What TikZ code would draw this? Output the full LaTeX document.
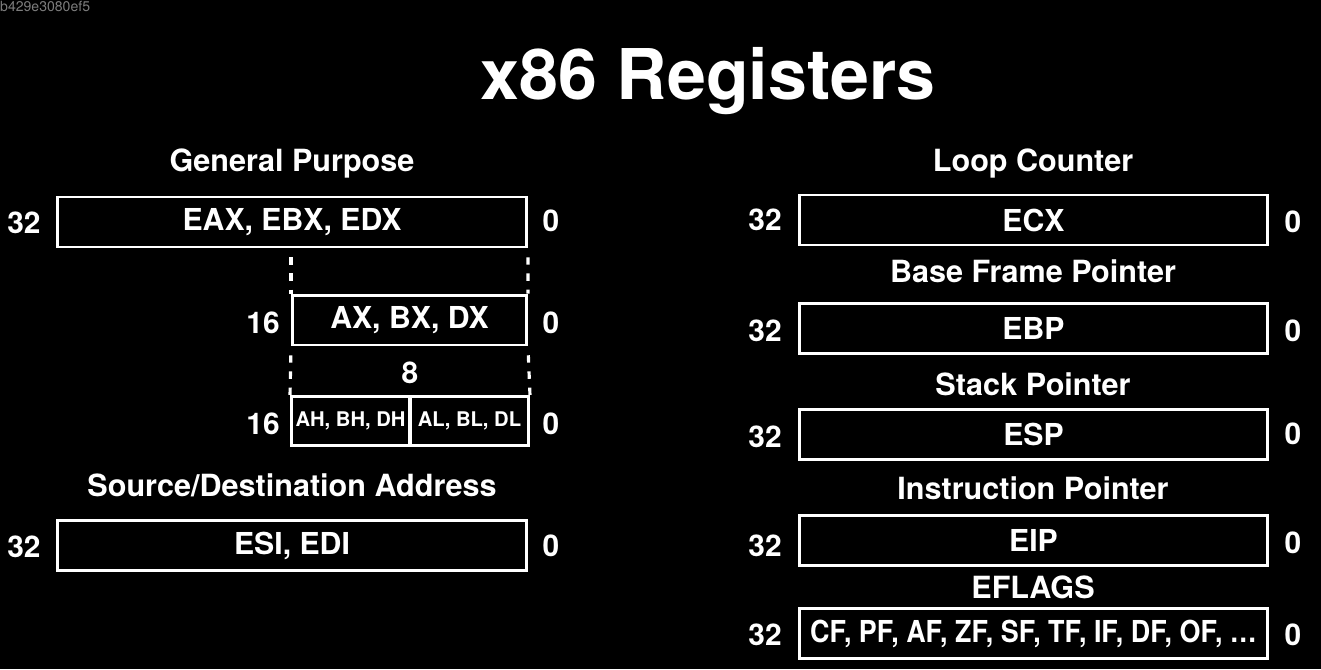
\documentclass[tikz,border=0pt]{standalone}
\usepackage{fontspec}
\setmainfont{TeX Gyre Heros}
\usepackage{tikz}
\usetikzlibrary{positioning}
\definecolor{hashgray}{RGB}{125,125,125}

\begin{document}
\begin{tikzpicture}[x=0.02cm,y=-0.02cm,
  reg/.style={draw=white,line width=1.7pt,minimum width=9.38cm,minimum height=1cm,inner sep=0pt,text=white,font=\fontsize{17.2}{20}\selectfont\bfseries},
  half/.style={reg,minimum width=4.68cm},
  byte/.style={reg,minimum width=2.36cm,minimum height=0.98cm,font=\fontsize{11.5}{14}\selectfont\bfseries},
  head/.style={anchor=base,text=white,font=\fontsize{17.4}{20}\selectfont\bfseries},
  bitno/.style={anchor=base,text=white,font=\fontsize{17}{20}\selectfont\bfseries},
  dashline/.style={draw=white,line width=1.8pt,dash pattern=on 4.2pt off 5pt,dash phase=4.2pt}]
  \fill[black] (0,0) rectangle (1321,669);
  \useasboundingbox (0,0) rectangle (1321,669);
  \node[anchor=west,text=hashgray,font=\fontsize{8}{9}\selectfont] (hash) at (-6,6) {b429e3080ef5};
  \node[anchor=base,text=white,font=\fontsize{39.8}{44}\selectfont\bfseries] (title) at (708,100) {x86 Registers};

  % general purpose
  \node[head] (gphead) at (292,171) {General Purpose};
  \node[reg] (eax) at (292,222) {EAX, EBX, EDX};
  \node[bitno] (eaxhi) at (24,233) {32};
  \node[bitno] (eaxlo) at (551,231) {0};
  \node[half] (ax) at (409.5,320) {AX, BX, DX};
  \node[bitno] (axhi) at (263,333) {16};
  \node[bitno] (axlo) at (551,333) {0};
  \draw[dashline] (ax.north west |- eax.south) -- (ax.north west);
  \draw[dashline] (eax.south east) -- (ax.north east);
  \node[bitno] (split) at (410,383) {8};
  \node[byte] (ah) at (350.5,421) {AH, BH, DH};
  \node[byte] (al) at (469.5,421) {AL, BL, DL};
  \node[bitno] (ahhi) at (263,434) {16};
  \node[bitno] (allo) at (551,434) {0};
  \draw[dashline] (ax.south west) -- (ah.north west);
  \draw[dashline] (ax.south east) -- (al.north east);

  % source / destination
  \node[head] (sdhead) at (292,496) {Source/Destination Address};
  \node[reg] (esi) at (292,545.5) {ESI, EDI};
  \node[bitno] (esihi) at (24,557) {32};
  \node[bitno] (esilo) at (551,556) {0};

  % right column
  \node[head] (lchead) at (1033,171) {Loop Counter};
  \node[reg] (ecx) at (1033.5,220) {ECX};
  \node[bitno] (ecxhi) at (765,230) {32};
  \node[bitno] (ecxlo) at (1293,232) {0};

  \node[head] (bphead) at (1033,282) {Base Frame Pointer};
  \node[reg] (ebp) at (1033.5,328.5) {EBP};
  \node[bitno] (ebphi) at (765,341) {32};
  \node[bitno] (ebplo) at (1293,341) {0};

  \node[head] (sphead) at (1033,395) {Stack Pointer};
  \node[reg] (esp) at (1033.5,434.5) {ESP};
  \node[bitno] (esphi) at (765,447) {32};
  \node[bitno] (esplo) at (1293,444) {0};

  \node[head] (iphead) at (1033,499) {Instruction Pointer};
  \node[reg] (eip) at (1033.5,540.5) {EIP};
  \node[bitno] (eiphi) at (765,556) {32};
  \node[bitno] (eiplo) at (1293,553) {0};

  \node[head] (flhead) at (1033,598) {EFLAGS};
  \node[reg] (flags) at (1033.5,633.5) {\scalebox{0.89}[1]{CF, PF, AF, ZF, SF, TF, IF, DF, OF, \ldots}};
  \node[bitno] (flagshi) at (765,645) {32};
  \node[bitno] (flagslo) at (1293,645) {0};
\end{tikzpicture}
\end{document}
